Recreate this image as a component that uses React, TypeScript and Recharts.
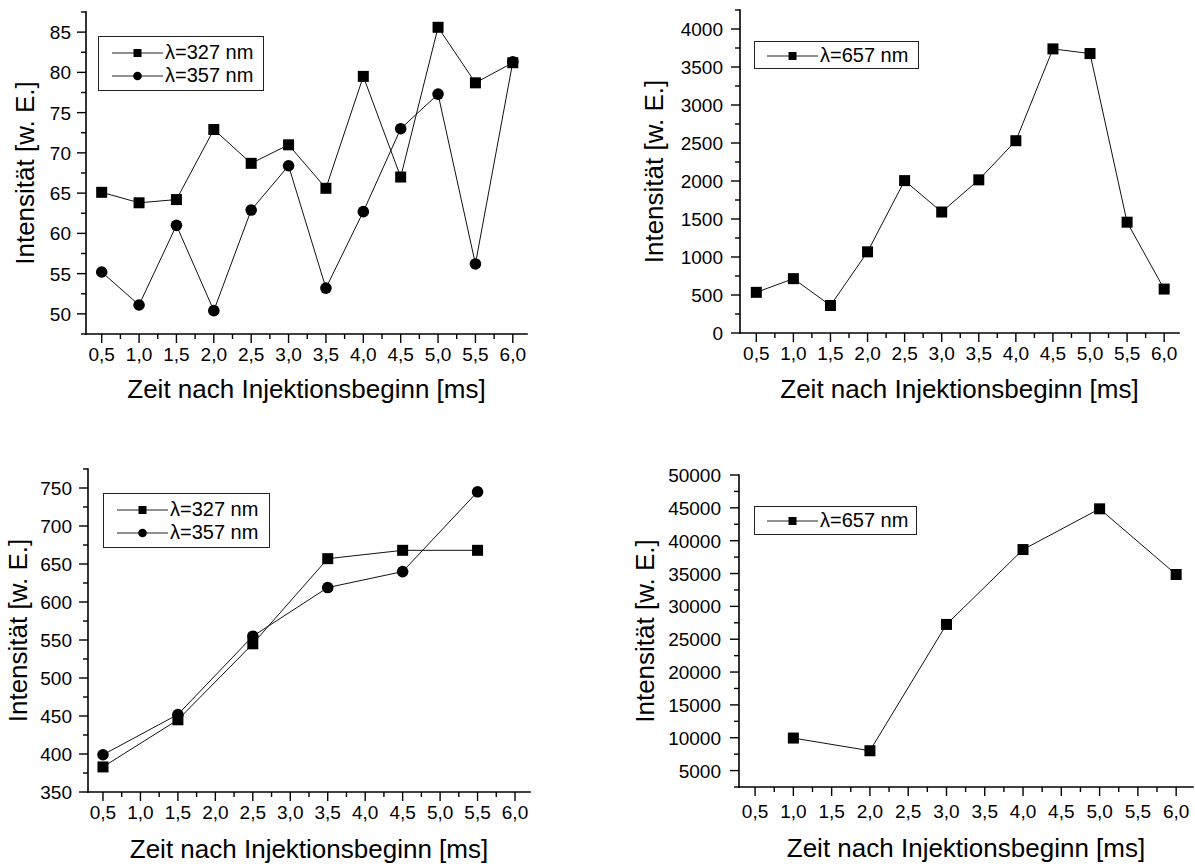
import React from 'react';
import { LineChart, Line, XAxis, YAxis, Legend, Label } from 'recharts';

const FONT = '"Liberation Sans", Arial, Helvetica, sans-serif';
const INK = '#000';

// Zeitpunkte nach Injektionsbeginn [ms]
const zeitVoll = [0.5, 1.0, 1.5, 2.0, 2.5, 3.0, 3.5, 4.0, 4.5, 5.0, 5.5, 6.0];
const zeitHalb = [0.5, 1.5, 2.5, 3.5, 4.5, 5.5];
const zeitGanz = [1.0, 2.0, 3.0, 4.0, 5.0, 6.0];

// oben links: 327 nm / 357 nm
const obenLinks327 = [65.1, 63.8, 64.2, 72.9, 68.7, 71.0, 65.6, 79.5, 67.0, 85.6, 78.7, 81.2];
const obenLinks357 = [55.2, 51.1, 61.0, 50.4, 62.9, 68.4, 53.2, 62.7, 73.0, 77.3, 56.2, 81.3];
// oben rechts: 657 nm
const obenRechts657 = [535, 715, 362, 1068, 2005, 1592, 2015, 2530, 3738, 3677, 1458, 578];
// unten links: 327 nm / 357 nm
const untenLinks327 = [383, 445, 545, 657, 668, 668];
const untenLinks357 = [399, 452, 555, 619, 640, 745];
// unten rechts: 657 nm
const untenRechts657 = [9950, 8020, 27250, 38650, 44850, 34850];

// Achsenbeschriftung
const xTicks = [0.5, 1.0, 1.5, 2.0, 2.5, 3.0, 3.5, 4.0, 4.5, 5.0, 5.5, 6.0];
const yTicksA = [50, 55, 60, 65, 70, 75, 80, 85];
const yTicksB = [0, 500, 1000, 1500, 2000, 2500, 3000, 3500, 4000];
const yTicksC = [350, 400, 450, 500, 550, 600, 650, 700, 750];
const yTicksD = [5000, 10000, 15000, 20000, 25000, 30000, 35000, 40000, 45000, 50000];

const X_TITLE = 'Zeit nach Injektionsbeginn [ms]';
const Y_TITLE = 'Intensität [w. E.]';

const MAJOR = 9;
const MINOR = 5;
const TICK_FONT = 19;

type Marker = 'square' | 'circle';
type Serie = { key: string; name: string; marker: Marker };

// major ticks plus the half-step minor ticks that fall inside the domain
const tickSet = (major: number[], domain: [number, number]) => {
  const step = major[1] - major[0];
  const minors = [major[0] - step / 2, ...major.map((v) => v + step / 2)];
  const all = [...major, ...minors].filter((v) => v >= domain[0] - 1e-9 && v <= domain[1] + 1e-9);
  return all.sort((a, b) => a - b);
};

const fmtX = (v: number) => v.toFixed(1).replace('.', ',');
const fmtY = (v: number) => String(v);

const makeTick =
  (side: 'bottom' | 'top' | 'left' | 'right', major: number[], fmt?: (v: number) => string, gap = 15) =>
  (props: any) => {
    const { x, y, payload } = props;
    const v = payload.value;
    const isMajor = major.some((m) => Math.abs(m - v) < 1e-9);
    const len = isMajor ? MAJOR : MINOR;
    let line;
    if (side === 'bottom' || side === 'top') line = <line x1={x} y1={y} x2={x} y2={y + len} stroke={INK} strokeWidth={1.4} />;
    else line = <line x1={x - len} y1={y} x2={x} y2={y} stroke={INK} strokeWidth={1.4} />;
    let text = null;
    if (isMajor && fmt && side === 'bottom') {
      text = (
        <text x={x} y={y + gap} textAnchor="middle" fontSize={TICK_FONT} fontFamily={FONT} fill={INK}>
          {fmt(v)}
        </text>
      );
    }
    if (isMajor && fmt && side === 'left') {
      text = (
        <text x={x - gap} y={y + 7} textAnchor="end" fontSize={TICK_FONT} fontFamily={FONT} fill={INK}>
          {fmt(v)}
        </text>
      );
    }
    return (
      <g>
        {line}
        {text}
      </g>
    );
  };

const dotRenderer = (marker: Marker) => (props: any) => {
  const { cx, cy, index } = props;
  if (cx == null || cy == null) return <g key={`d${index}`} />;
  if (marker === 'square') return <rect key={`d${index}`} x={cx - 5.5} y={cy - 5.5} width={11} height={11} fill={INK} />;
  return <circle key={`d${index}`} cx={cx} cy={cy} r={5.8} fill={INK} />;
};

const LegendSymbol = ({ marker }: { marker: Marker }) => (
  <svg width={51} height={12} style={{ display: 'block', flex: 'none' }}>
    <line x1={0} y1={6} x2={51} y2={6} stroke="#222" strokeWidth={1} />
    {marker === 'square' ? <rect x={21.5} y={2} width={8} height={8} fill={INK} /> : <circle cx={25.5} cy={6} r={4.3} fill={INK} />}
  </svg>
);

type LegendBoxProps = { payload?: any[]; w: number; h: number; markers: Record<string, Marker> };

const LegendBox = ({ payload = [], w, h, markers }: LegendBoxProps) => (
  <div
    style={{
      width: w,
      height: h,
      boxSizing: 'border-box',
      border: '1px solid #222',
      background: '#fff',
      padding: h > 40 ? '4px 0 0 13px' : '2px 0 0 12px',
      fontFamily: FONT,
      fontSize: 20,
      color: INK,
    }}
  >
    {payload.map((e: any) => (
      <div key={e.value} style={{ display: 'flex', alignItems: 'center', height: 23, whiteSpace: 'nowrap' }}>
        <LegendSymbol marker={markers[e.value]} />
        <span style={{ marginLeft: 2, lineHeight: '23px' }}>{e.value}</span>
      </div>
    ))}
  </div>
);

type PanelProps = {
  left: number;
  top: number;
  width: number;
  height: number;
  marginTop: number;
  marginRight: number;
  yAxisWidth: number;
  xAxisHeight: number;
  xDomain: [number, number];
  yDomain: [number, number];
  yMajor: number[];
  yGap: number;
  yTitleX: number;
  xLabelDy: number;
  xTitleDy: number;
  data: any[];
  series: Serie[];
  legend: { left: number; top: number; w: number; h: number };
};

const Panel = (p: PanelProps) => {
  const xAll = tickSet(xTicks, p.xDomain);
  const yAll = tickSet(p.yMajor, p.yDomain);
  const frame = { stroke: INK, strokeWidth: 1.6, strokeLinecap: 'square' as const };
  const markers: Record<string, Marker> = {};
  p.series.forEach((s) => (markers[s.name] = s.marker));
  return (
    <div style={{ position: 'absolute', left: p.left, top: p.top }}>
      <LineChart
        width={p.width}
        height={p.height}
        data={p.data}
        margin={{ top: p.marginTop, right: p.marginRight, bottom: 0, left: 0 }}
      >
        <XAxis
          dataKey="t"
          type="number"
          domain={p.xDomain}
          allowDataOverflow
          ticks={xAll}
          interval={0}
          height={p.xAxisHeight}
          tickSize={0}
          tickMargin={0}
          tickLine={false}
          axisLine={frame}
          tick={makeTick('bottom', xTicks, fmtX, p.xLabelDy)}
        >
          <Label
            content={(lp: any) => {
              const vb = lp.viewBox;
              return (
                <text x={vb.x + vb.width / 2} y={vb.y + p.xTitleDy} textAnchor="middle" fontSize={26} fontFamily={FONT} fill={INK}>
                  {X_TITLE}
                </text>
              );
            }}
          />
        </XAxis>
        <XAxis
          xAxisId="oben"
          orientation="top"
          type="number"
          domain={p.xDomain}
          allowDataOverflow
          ticks={xAll}
          interval={0}
          height={0}
          tickSize={0}
          tickMargin={0}
          tickLine={false}
          axisLine={frame}
          tick={makeTick('top', xTicks)}
        />
        <YAxis
          type="number"
          domain={p.yDomain}
          allowDataOverflow
          ticks={yAll}
          interval={0}
          width={p.yAxisWidth}
          tickSize={0}
          tickMargin={0}
          tickLine={false}
          axisLine={frame}
          tick={makeTick('left', p.yMajor, fmtY, p.yGap)}
        >
          <Label
            content={(lp: any) => {
              const vb = lp.viewBox;
              const cx = p.yTitleX;
              const cy = vb.y + vb.height / 2;
              return (
                <text
                  x={cx}
                  y={cy}
                  transform={`rotate(-90 ${cx} ${cy})`}
                  textAnchor="middle"
                  dominantBaseline="central"
                  fontSize={26}
                  fontFamily={FONT}
                  fill={INK}
                >
                  {Y_TITLE}
                </text>
              );
            }}
          />
        </YAxis>
        <YAxis
          yAxisId="rechts"
          orientation="right"
          type="number"
          domain={p.yDomain}
          allowDataOverflow
          ticks={yAll}
          interval={0}
          width={0}
          tickSize={0}
          tickMargin={0}
          tickLine={false}
          axisLine={frame}
          tick={makeTick('right', p.yMajor)}
        />
        <Legend
          layout="vertical"
          align="center"
          verticalAlign="middle"
          wrapperStyle={{ left: p.legend.left, top: p.legend.top, width: p.legend.w, height: p.legend.h }}
          content={(lp: any) => <LegendBox payload={lp.payload} w={p.legend.w} h={p.legend.h} markers={markers} />}
        />
        {p.series.map((s) => (
          <Line
            key={s.key}
            dataKey={s.key}
            name={s.name}
            type="linear"
            stroke="#111"
            strokeWidth={1}
            dot={dotRenderer(s.marker)}
            activeDot={false}
            connectNulls
            isAnimationActive={false}
          />
        ))}
      </LineChart>
    </div>
  );
};

const daten1 = zeitVoll.map((t, i) => ({ t, n327: obenLinks327[i], n357: obenLinks357[i] }));
const daten2 = zeitVoll.map((t, i) => ({ t, n657: obenRechts657[i] }));
const daten3 = zeitHalb.map((t, i) => ({ t, n327: untenLinks327[i], n357: untenLinks357[i] }));
const daten4 = zeitGanz.map((t, i) => ({ t, n657: untenRechts657[i] }));

const zweiLinien: Serie[] = [
  { key: 'n327', name: 'λ=327 nm', marker: 'square' },
  { key: 'n357', name: 'λ=357 nm', marker: 'circle' },
];
const eineLinie: Serie[] = [{ key: 'n657', name: 'λ=657 nm', marker: 'square' }];

export default function App() {
  return (
    <div style={{ position: 'absolute', left: 0, top: 0, width: 1195, height: 866, background: '#fff', overflow: 'hidden' }}>
      <Panel
        left={0}
        top={0}
        width={545}
        height={420}
        marginTop={12}
        marginRight={18}
        yAxisWidth={86}
        xAxisHeight={86}
        xDomain={[0.29, 6.19]}
        yDomain={[47.5, 87.5]}
        yMajor={yTicksA}
        yGap={15}
        yTitleX={25}
        xLabelDy={27}
        xTitleDy={64}
        data={daten1}
        series={zweiLinien}
        legend={{ left: 98, top: 36, w: 166, h: 55 }}
      />
      <Panel
        left={600}
        top={0}
        width={595}
        height={420}
        marginTop={10}
        marginRight={16}
        yAxisWidth={140}
        xAxisHeight={87}
        xDomain={[0.28, 6.2]}
        yDomain={[0, 4250]}
        yMajor={yTicksB}
        yGap={17}
        yTitleX={54}
        xLabelDy={27}
        xTitleDy={65}
        data={daten2}
        series={eineLinie}
        legend={{ left: 154, top: 41, w: 165, h: 28 }}
      />
      <Panel
        left={0}
        top={440}
        width={545}
        height={426}
        marginTop={29}
        marginRight={15}
        yAxisWidth={88}
        xAxisHeight={74}
        xDomain={[0.3, 6.2]}
        yDomain={[350, 775]}
        yMajor={yTicksC}
        yGap={16}
        yTitleX={18}
        xLabelDy={27}
        xTitleDy={66}
        data={daten3}
        series={zweiLinien}
        legend={{ left: 103, top: 53, w: 167, h: 55 }}
      />
      <Panel
        left={600}
        top={440}
        width={595}
        height={426}
        marginTop={35}
        marginRight={2}
        yAxisWidth={139}
        xAxisHeight={79}
        xDomain={[0.29, 6.22]}
        yDomain={[2500, 50000]}
        yMajor={yTicksD}
        yGap={18}
        yTitleX={45}
        xLabelDy={31}
        xTitleDy={70}
        data={daten4}
        series={eineLinie}
        legend={{ left: 154, top: 66, w: 163, h: 29 }}
      />
    </div>
  );
}
